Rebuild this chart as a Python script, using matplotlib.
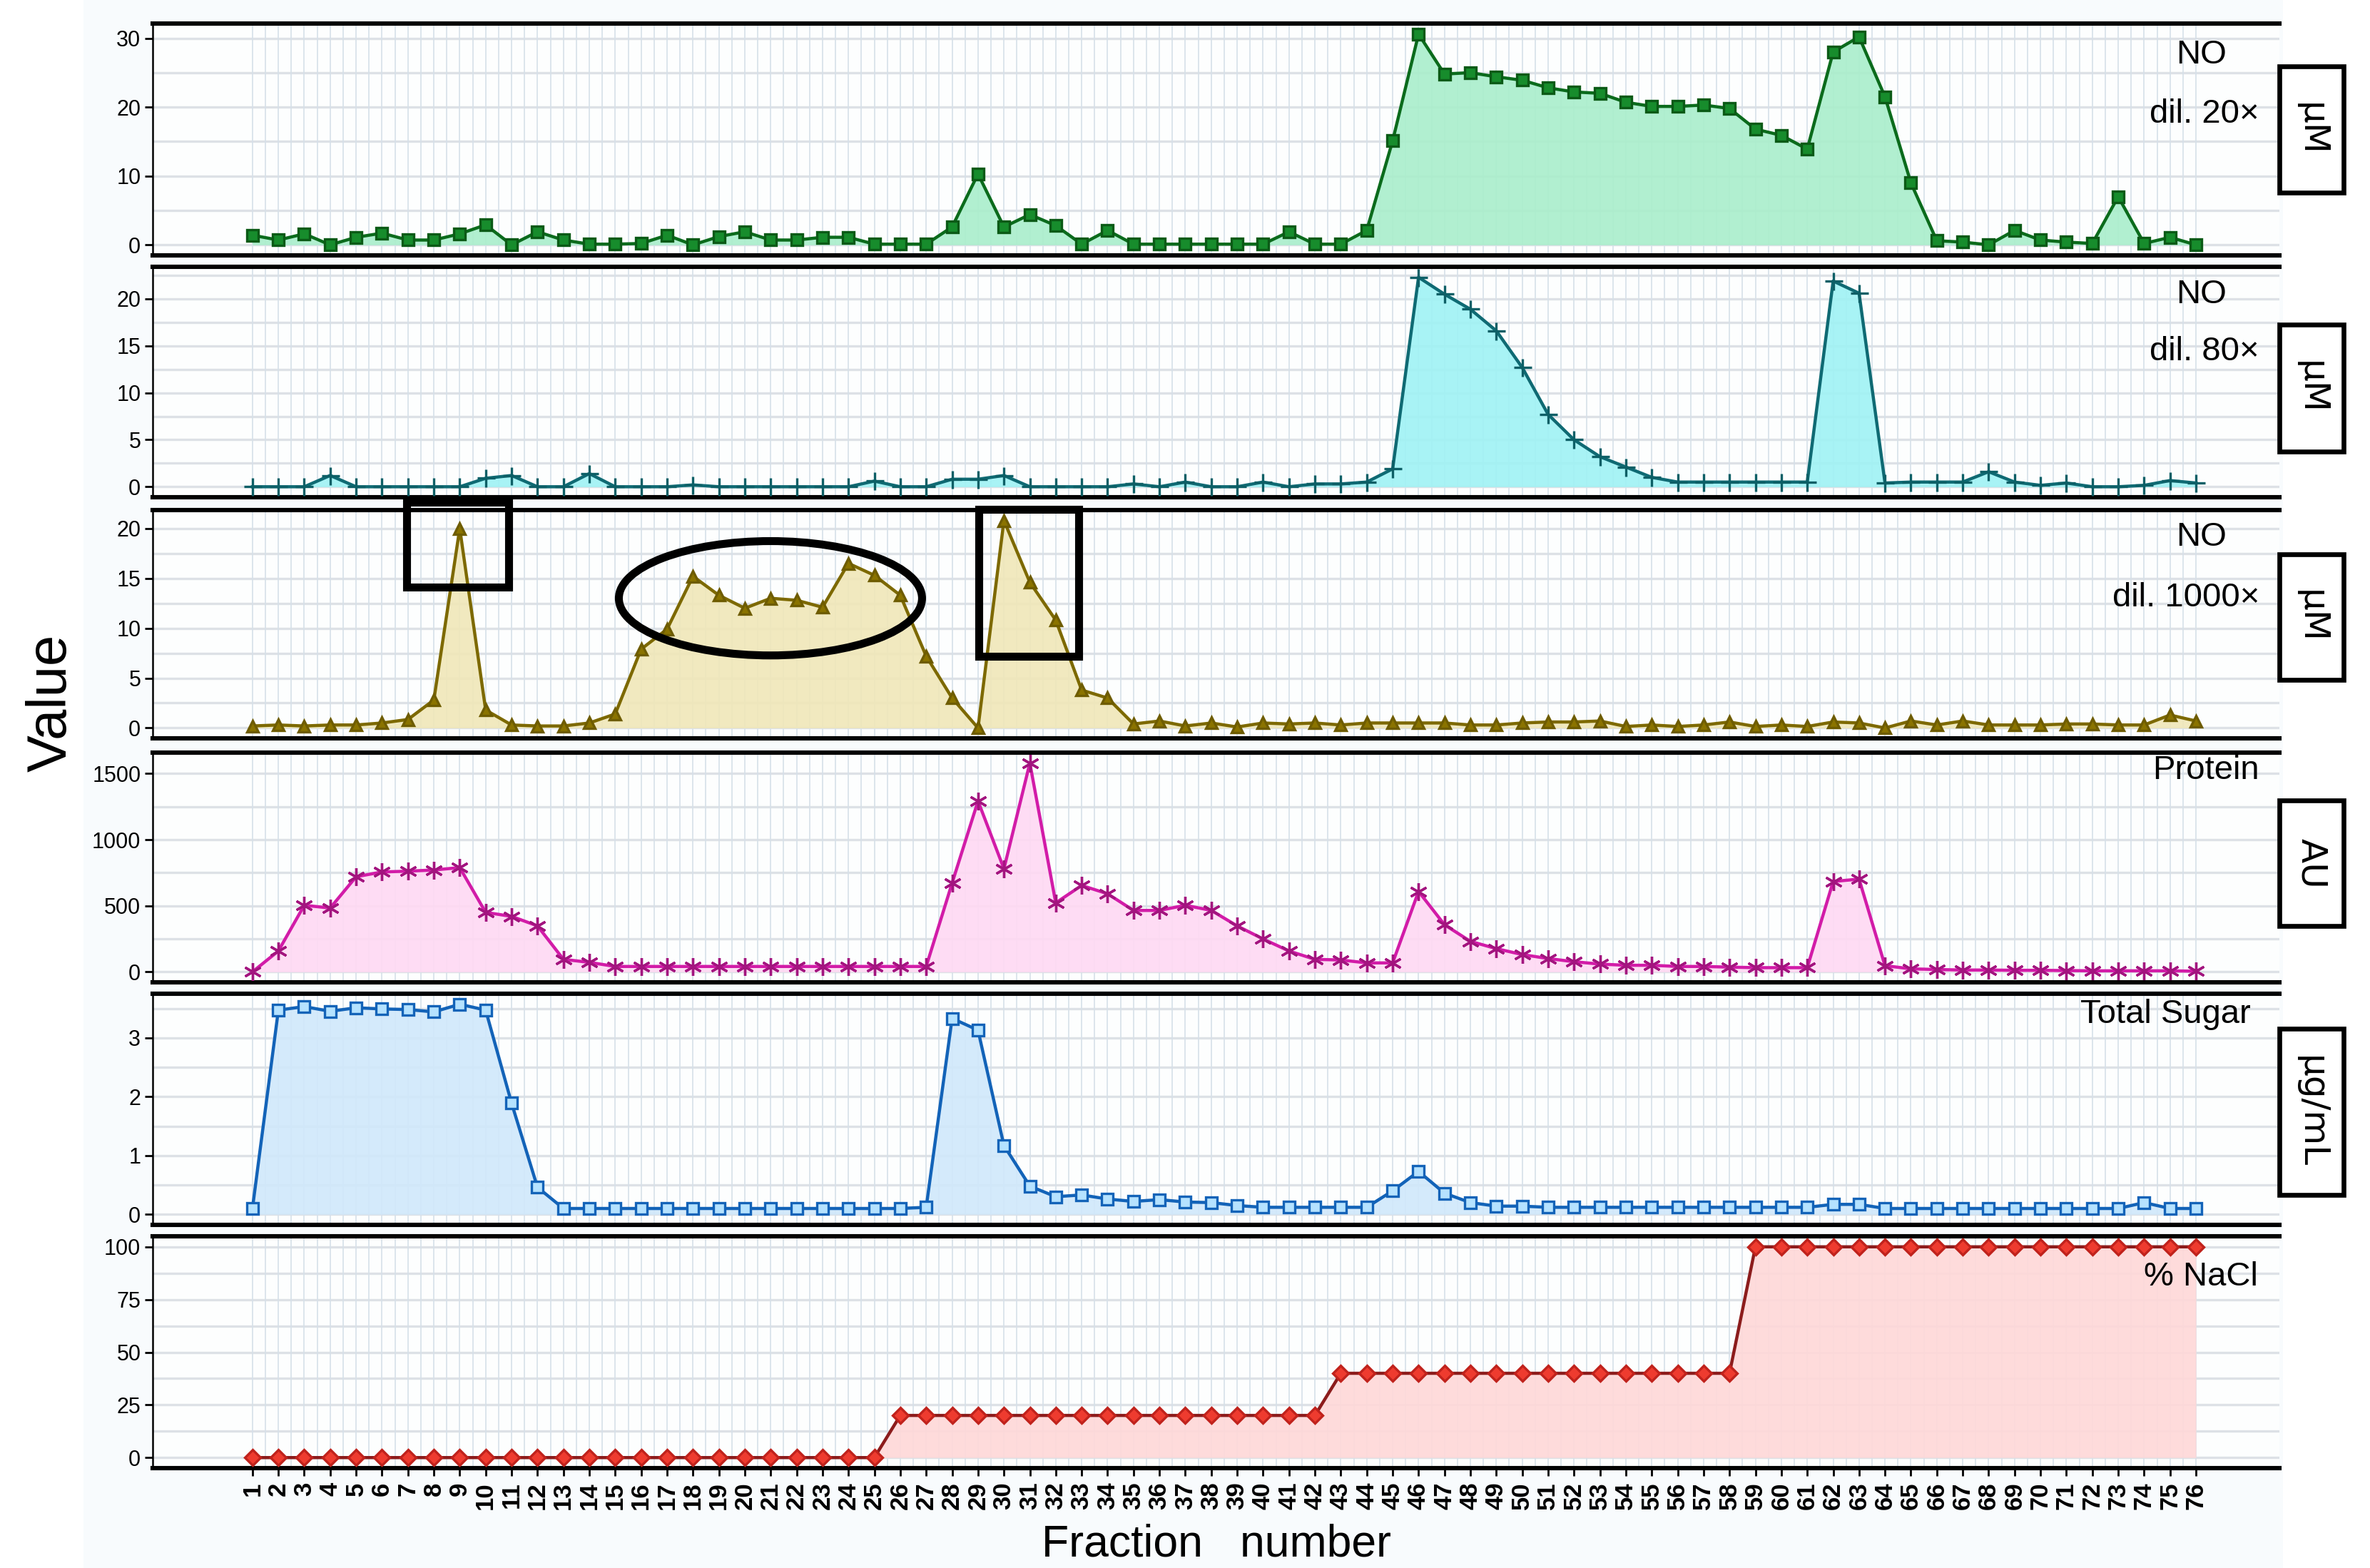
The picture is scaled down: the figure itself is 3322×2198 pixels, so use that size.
import numpy as np
import matplotlib
matplotlib.use("Agg")
import matplotlib.pyplot as plt
from matplotlib import font_manager
from matplotlib.patches import Rectangle, Ellipse

# ---- data (fraction 1..76) ----
fractions = list(range(1, 77))

no_dil20 = [1.4, 0.7, 1.6, 0.0, 1.1, 1.7, 0.7, 0.7, 1.6, 2.9,
            0.0, 1.9, 0.7, 0.1, 0.1, 0.2, 1.4, 0.0, 1.2, 1.9,
            0.7, 0.7, 1.1, 1.1, 0.1, 0.1, 0.1, 2.6, 10.3, 2.6,
            4.4, 2.8, 0.1, 2.1, 0.1, 0.1, 0.1, 0.1, 0.1, 0.1,
            1.9, 0.1, 0.1, 2.1, 15.1, 30.6, 24.8, 25.0, 24.4, 23.9,
            22.8, 22.2, 22.0, 20.7, 20.1, 20.1, 20.3, 19.8, 16.8, 15.9,
            13.9, 28.0, 30.2, 21.5, 9.0, 0.6, 0.4, 0.0, 2.1, 0.7,
            0.4, 0.2, 7.0, 0.2, 1.1, 0.0]

no_dil80 = [0.0, 0.0, 0.0, 1.2, 0.0, 0.0, 0.0, 0.0, 0.0, 0.9,
            1.2, 0.0, 0.0, 1.4, 0.0, 0.0, 0.0, 0.2, 0.0, 0.0,
            0.0, 0.0, 0.0, 0.0, 0.6, 0.0, 0.0, 0.8, 0.8, 1.2,
            0.0, 0.0, 0.0, 0.0, 0.3, 0.0, 0.5, 0.0, 0.0, 0.5,
            0.0, 0.3, 0.3, 0.5, 1.9, 22.3, 20.5, 18.9, 16.6, 12.7,
            7.7, 5.0, 3.2, 2.1, 1.0, 0.5, 0.5, 0.5, 0.5, 0.5,
            0.5, 21.9, 20.6, 0.4, 0.5, 0.5, 0.5, 1.6, 0.5, 0.15,
            0.4, 0.0, 0.0, 0.15, 0.66, 0.4]

no_dil1000 = [0.2, 0.3, 0.2, 0.3, 0.3, 0.5, 0.85, 2.8, 20.0, 1.8,
              0.3, 0.2, 0.2, 0.5, 1.4, 7.9, 9.9, 15.2, 13.3, 12.0,
              13.0, 12.8, 12.1, 16.5, 15.3, 13.3, 7.2, 3.0, 0.0, 20.8,
              14.6, 10.8, 3.8, 3.0, 0.4, 0.7, 0.2, 0.5, 0.1, 0.5,
              0.4, 0.5, 0.3, 0.5, 0.5, 0.5, 0.5, 0.3, 0.3, 0.5,
              0.6, 0.6, 0.7, 0.15, 0.3, 0.15, 0.3, 0.6, 0.15, 0.3,
              0.15, 0.6, 0.5, 0.0, 0.7, 0.3, 0.7, 0.3, 0.3, 0.3,
              0.4, 0.4, 0.3, 0.3, 1.3, 0.7]

protein = [0, 158, 504, 483, 720, 756, 762, 771, 789, 450,
           420, 348, 95, 72, 41, 41, 41, 41, 41, 41,
           41, 41, 41, 41, 41, 41, 41, 672, 1293, 780,
           1580, 522, 654, 591, 465, 465, 504, 465, 348, 249,
           158, 95, 90, 68, 68, 609, 357, 231, 176, 131,
           101, 77, 59, 50, 50, 41, 41, 36, 32, 32,
           32, 684, 702, 47, 23, 18, 14, 14, 12, 12,
           10, 8, 8, 8, 8, 5]

total_sugar = [0.1, 3.47, 3.53, 3.45, 3.51, 3.49, 3.48, 3.44, 3.57, 3.47,
               1.89, 0.46, 0.1, 0.1, 0.1, 0.1, 0.1, 0.1, 0.1, 0.1,
               0.1, 0.1, 0.1, 0.1, 0.1, 0.1, 0.12, 3.33, 3.13, 1.17,
               0.48, 0.3, 0.33, 0.26, 0.22, 0.25, 0.21, 0.2, 0.15, 0.12,
               0.12, 0.12, 0.12, 0.12, 0.4, 0.73, 0.36, 0.2, 0.14, 0.14,
               0.12, 0.12, 0.12, 0.12, 0.12, 0.12, 0.12, 0.12, 0.12, 0.12,
               0.12, 0.17, 0.17, 0.1, 0.1, 0.1, 0.1, 0.1, 0.1, 0.1,
               0.1, 0.1, 0.1, 0.2, 0.1, 0.1]

nacl = [0, 0, 0, 0, 0, 0, 0, 0, 0, 0,
        0, 0, 0, 0, 0, 0, 0, 0, 0, 0,
        0, 0, 0, 0, 0, 20, 20, 20, 20, 20,
        20, 20, 20, 20, 20, 20, 20, 20, 20, 20,
        20, 20, 40, 40, 40, 40, 40, 40, 40, 40,
        40, 40, 40, 40, 40, 40, 40, 40, 100, 100,
        100, 100, 100, 100, 100, 100, 100, 100, 100, 100,
        100, 100, 100, 100, 100, 100]

# ---- figure geometry (pixels of the 3322x2198 target) ----
W, H, DPI = 3322, 2198, 200
PX_LEFT, PX_RIGHT = 214, 3195
panel_px = [(33, 358), (374, 697), (715, 1035), (1055, 1377), (1393, 1717), (1733, 2058)]
strip_px = [(93, 270), (455, 633), (777, 953), (1122, 1298), (1442, 1675), None]

names = {f.name for f in font_manager.fontManager.ttflist}
narrow = "Liberation Sans Narrow" if "Liberation Sans Narrow" in names else "Liberation Sans"


def fx(x):
    return x / W


def fy(y):
    return 1 - y / H


panels = [
    dict(y=no_dil20, line="#0b6b1c", mfc="#178c2c", mec="#0b5a16", fill="#a9eecb",
         marker="s", ms=5.5, ticks=[0, 10, 20, 30], step=5, strip="μM"),
    dict(y=no_dil80, line="#0f6a73", mfc="#0d5f66", mec="#0d5f66", fill="#9ff2f4",
         marker="+", ms=9, ticks=[0, 5, 10, 15, 20], step=2.5, strip="μM"),
    dict(y=no_dil1000, line="#7d6900", mfc="#8a7300", mec="#6e5c00", fill="#f0e7b8",
         marker="^", ms=5.5, ticks=[0, 5, 10, 15, 20], step=2.5, strip="μM"),
    dict(y=protein, line="#d21ca8", mfc="#b0168c", mec="#a3157f", fill="#ffd9f3",
         marker=(6, 2, 0), ms=9, ticks=[0, 500, 1000, 1500], step=250, strip="AU"),
    dict(y=total_sugar, line="#1363b8", mfc="#b5e2ff", mec="#1363b8", fill="#d0e8fb",
         marker="s", ms=5.5, ticks=[0, 1, 2, 3], step=0.5, strip="μg/mL"),
    dict(y=nacl, line="#8c1c1c", mfc="#ee3b2f", mec="#c0221c", fill="#ffd8d8",
         marker="D", ms=5.5, ticks=[0, 25, 50, 75, 100], step=12.5, strip=None),
]

fig = plt.figure(figsize=(W / DPI, H / DPI), dpi=DPI, facecolor="white")
fig.patches.append(Rectangle((fx(117), 0), fx(3200 - 117), 1, transform=fig.transFigure,
                             facecolor="#f8fbfd", edgecolor="none", zorder=-10))

axes = []
for i, p in enumerate(panels):
    top, bot = panel_px[i]
    ax = fig.add_axes([fx(PX_LEFT), fy(bot), fx(PX_RIGHT - PX_LEFT), (bot - top) / H])
    ax.set_facecolor("#fdfefe")
    ymax = max(p["y"])
    lo, hi = -0.05 * ymax, 1.05 * ymax
    ax.set_xlim(-2.85, 79.22)
    ax.set_ylim(lo, hi)

    # grid: horizontal major+minor, dense vertical lines between first and last fraction
    for gy in np.arange(0, hi, p["step"]):
        ax.axhline(gy, color="#dde1e6", lw=1.2, zorder=0)
    ax.vlines(np.arange(1, 76.01, 0.5), lo, hi, color="#d6e0e9", lw=0.6, zorder=0)

    ax.fill_between(fractions, 0, p["y"], color=p["fill"], lw=0, alpha=0.9, zorder=1)
    ax.plot(fractions, p["y"], color=p["line"], lw=1.6, zorder=2)
    ax.plot(fractions, p["y"], ls="none", marker=p["marker"], ms=p["ms"],
            mfc=p["mfc"], mec=p["mec"], mew=1.2, zorder=3)

    ax.set_yticks(p["ticks"])
    ax.set_yticklabels([str(t) for t in p["ticks"]], family=[narrow, "DejaVu Sans"], fontsize=11)
    ax.tick_params(axis="y", length=4, width=1, color="black", pad=2)
    ax.spines["right"].set_visible(False)
    ax.spines["left"].set_linewidth(0.9)
    ax.spines["top"].set_linewidth(2.2)
    ax.spines["bottom"].set_linewidth(2.2)

    if i < 5:
        ax.set_xticks([])
    else:
        ax.set_xticks(fractions)
        ax.set_xticklabels([str(f) for f in fractions], rotation=90, fontsize=12.5,
                           fontweight="bold", family=["Liberation Sans", "DejaVu Sans"])
        ax.tick_params(axis="x", length=4, width=1, pad=3)

    if strip_px[i] is not None:
        s_top, s_bot = strip_px[i]
        fig.patches.append(Rectangle((fx(PX_RIGHT), fy(s_bot)), fx(3285 - PX_RIGHT),
                                     (s_bot - s_top) / H, transform=fig.transFigure,
                                     facecolor="white", edgecolor="black", lw=2.4))
        fig.text(fx((PX_RIGHT + 3285) / 2), fy((s_top + s_bot) / 2), p["strip"],
                 rotation=270, ha="center", va="center", fontsize=18, family="DejaVu Sans")
    axes.append(ax)

# panel captions
label_font = dict(family=[narrow, "DejaVu Sans"], fontsize=17, color="black")
fig.text(fx(3086), fy(77), "NO", ha="center", va="center", **label_font)
fig.text(fx(3167), fy(160), "dil. 20×", ha="right", va="center", **label_font)
fig.text(fx(3086), fy(413), "NO", ha="center", va="center", **label_font)
fig.text(fx(3167), fy(493), "dil. 80×", ha="right", va="center", **label_font)
fig.text(fx(3086), fy(753), "NO", ha="center", va="center", **label_font)
fig.text(fx(3167), fy(838), "dil. 1000×", ha="right", va="center", **label_font)
fig.text(fx(3167), fy(1080), "Protein", ha="right", va="center", **label_font)
fig.text(fx(3155), fy(1422), "Total Sugar", ha="right", va="center", **label_font)
fig.text(fx(3165), fy(1790), "% NaCl", ha="right", va="center", **label_font)

# highlight marks on the NO dil. 1000x panel
ax3 = axes[2]
ax3.add_patch(Rectangle((6.95, 14.15), 3.93, 8.45, fill=False, ec="black", lw=4, clip_on=False, zorder=5))
ax3.add_patch(Rectangle((29.03, 7.2), 3.85, 14.7, fill=False, ec="black", lw=4, clip_on=False, zorder=5))
ax3.add_patch(Ellipse((20.99, 13.0), 11.7, 11.46, fill=False, ec="black", lw=4, clip_on=False, zorder=5))

fig.text(fx(72), fy(985), "Value", rotation=90, ha="center", va="center",
         fontsize=28, family=["Liberation Sans", "DejaVu Sans"])
fig.text(fx(1705), fy(2165), "Fraction   number", ha="center", va="center",
         fontsize=22.5, family=[narrow, "DejaVu Sans"])

fig.savefig("out.png", dpi=DPI, facecolor="white")
